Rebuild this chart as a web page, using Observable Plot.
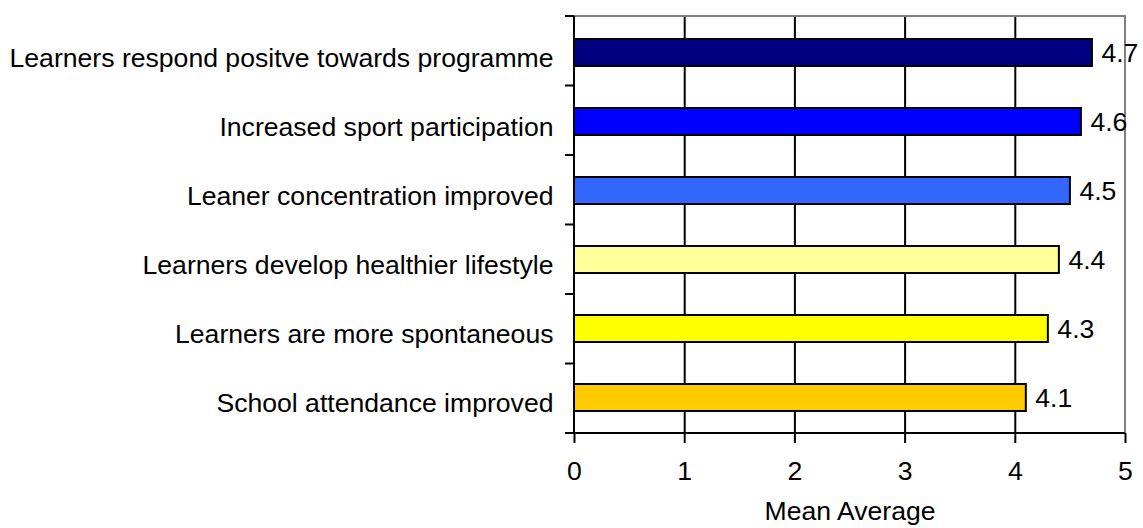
<!DOCTYPE html>
<html><head><meta charset="utf-8">
<script src="https://cdn.jsdelivr.net/npm/d3@7"></script>
<script src="https://cdn.jsdelivr.net/npm/@observablehq/plot@0.6"></script>
<style>body{margin:0;background:#fff;}</style>
</head><body><div id="chart"></div>
<script>
const categories = [
  "Learners respond positve towards programme",
  "Increased sport participation",
  "Leaner concentration improved",
  "Learners develop healthier lifestyle",
  "Learners are more spontaneous",
  "School attendance improved"
];
const values = [4.7, 4.6, 4.5, 4.4, 4.3, 4.1];
const colors = ["#000080", "#0000FF", "#3366FF", "#FFFF99", "#FFFF00", "#FFCC00"];
const xTicks = [0, 1, 2, 3, 4, 5];
const gridTicks = [1, 2, 3, 4];
const axisTitle = "Mean Average";

const data = categories.map((c, i) => ({category: c, value: values[i], color: colors[i]}));

function frameLines(gray) {
  return (index, scales, vals, dims) => {
    const g = d3.create("svg:g");
    const top = dims.marginTop, bottom = dims.height - dims.marginBottom;
    const left = dims.marginLeft, right = dims.width - dims.marginRight;
    if (gray) {
      g.append("path").attr("d", `M${left},${top}H${right}V${bottom}`)
        .attr("fill", "none").attr("stroke", "#808080").attr("stroke-width", 2);
    } else {
      const n = categories.length;
      const step = (bottom - top) / n;
      let d = `M${left},${top}V${bottom}M${left},${bottom}H${right}`;
      for (let k = 0; k <= n; k++) d += `M${left - 9},${top + k * step}H${left}`;
      g.append("path").attr("d", d).attr("fill", "none").attr("stroke", "#000").attr("stroke-width", 2);
    }
    return g.node();
  };
}

const chart = Plot.plot({
  width: 1143,
  height: 528,
  marginLeft: 574,
  marginRight: 18,
  marginTop: 16,
  marginBottom: 95,
  style: {fontSize: "26.6px", fontFamily: "Liberation Sans, Arial, sans-serif", color: "#000", background: "#fff", overflow: "visible"},
  x: {domain: [0, 5]},
  y: {domain: categories, paddingInner: 0.61, paddingOuter: 0.305},
  color: {type: "identity"},
  marks: [
    Plot.ruleX(gridTicks, {stroke: "#000", strokeWidth: 2}),
    frameLines(true),
    Plot.barX(data, {x: "value", y: "category", fill: "color", stroke: "#000", strokeWidth: 2}),
    frameLines(false),
    Plot.axisX({ticks: xTicks, tickSize: 10, tickPadding: 18, strokeWidth: 2, label: null, tickFormat: d => String(d)}),
    Plot.axisY({tickSize: 0, tickPadding: 21, label: null, dy: 5}),
    Plot.text(data, {x: "value", y: "category", text: d => d.value.toFixed(1), textAnchor: "start", dx: 9, fill: "#000"}),
    Plot.text([axisTitle], {frameAnchor: "bottom", dy: 86, lineAnchor: "bottom", fill: "#000"})
  ]
});
document.getElementById("chart").appendChild(chart);
</script>
</body></html>
